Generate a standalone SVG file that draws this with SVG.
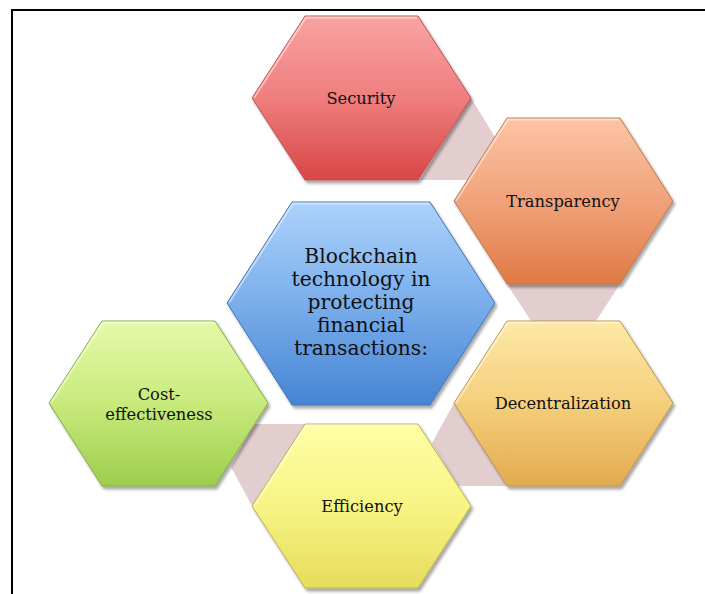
<svg xmlns="http://www.w3.org/2000/svg" width="705" height="594" viewBox="0 0 705 594">
  <style>
    .hex { stroke-width: 1; filter: url(#shadow); }
    .label { font-family: "DejaVu Serif", "Liberation Serif", serif; font-size: 16.3px; fill: #111111; text-anchor: middle; }
    .main { font-size: 20.3px; }
    .link { fill: #e2cdcf; }
    .frame { fill: none; stroke: #000; stroke-width: 2; }
    .bevel { fill: none; stroke: #ffffff; stroke-opacity: 0.45; stroke-width: 2; }
  </style>
  <defs>
    <filter id="shadow" x="-10%" y="-10%" width="125%" height="125%">
      <feGaussianBlur in="SourceAlpha" stdDeviation="1.6"/>
      <feOffset dx="1.5" dy="2.5" result="b"/>
      <feComponentTransfer><feFuncA type="linear" slope="0.35"/></feComponentTransfer>
      <feMerge><feMergeNode/><feMergeNode in="SourceGraphic"/></feMerge>
    </filter>
    <linearGradient id="gRed" x1="0" y1="0" x2="0" y2="1">
      <stop offset="0" stop-color="#f9a3a3"/>
      <stop offset="0.5" stop-color="#ef7e7e"/>
      <stop offset="1" stop-color="#d84646"/>
    </linearGradient>
    <linearGradient id="gOrange" x1="0" y1="0" x2="0" y2="1">
      <stop offset="0" stop-color="#fbc4a5"/>
      <stop offset="0.5" stop-color="#f1a27a"/>
      <stop offset="1" stop-color="#df7a45"/>
    </linearGradient>
    <linearGradient id="gGold" x1="0" y1="0" x2="0" y2="1">
      <stop offset="0" stop-color="#fde9a6"/>
      <stop offset="0.5" stop-color="#f5cf7c"/>
      <stop offset="1" stop-color="#e2ab50"/>
    </linearGradient>
    <linearGradient id="gYellow" x1="0" y1="0" x2="0" y2="1">
      <stop offset="0" stop-color="#fefea6"/>
      <stop offset="0.5" stop-color="#f8f484"/>
      <stop offset="1" stop-color="#e6dc5c"/>
    </linearGradient>
    <linearGradient id="gGreen" x1="0" y1="0" x2="0" y2="1">
      <stop offset="0" stop-color="#e6f9aa"/>
      <stop offset="0.5" stop-color="#c8ea7c"/>
      <stop offset="1" stop-color="#9ccd4c"/>
    </linearGradient>
    <linearGradient id="gBlue" x1="0" y1="0" x2="0" y2="1">
      <stop offset="0" stop-color="#acd2fb"/>
      <stop offset="0.5" stop-color="#79aeeb"/>
      <stop offset="1" stop-color="#4684d4"/>
    </linearGradient>
  </defs>

  <rect width="705" height="594" fill="#ffffff"/>

  <!-- page frame: top and left rules -->
  <path class="frame" d="M12 594 V10 H705"/>

  <!-- connecting bands between neighbouring hexagons -->
  <g id="connectors">
    <polygon class="link" points="471,98 495,137 467,180 420,180"/>
    <polygon class="link" points="507,284 620,284 596,321 531,321"/>
    <polygon class="link" points="454,403 432,443 458,486 507,486"/>
    <polygon class="link" points="254,424 307,424 252,506 231,467"/>
  </g>

  <g id="security">
    <polygon class="hex" fill="url(#gRed)" stroke="#c05050" points="252,98 305,16 418,16 471,98 418,180 305,180"/>
    <polyline class="bevel" points="254,98 306,17.5 417,17.5"/>
    <text class="label" x="361" y="104">Security</text>
  </g>

  <g id="transparency">
    <polygon class="hex" fill="url(#gOrange)" stroke="#c0764a" points="454,201 507,118 620,118 673,201 620,284 507,284"/>
    <polyline class="bevel" points="456,201 508,119.5 619,119.5"/>
    <text class="label" x="563" y="207">Transparency</text>
  </g>

  <g id="decentralization">
    <polygon class="hex" fill="url(#gGold)" stroke="#bf9450" points="454,403 507,321 620,321 673,403 620,486 507,486"/>
    <polyline class="bevel" points="456,403 508,322.5 619,322.5"/>
    <text class="label" x="563" y="409">Decentralization</text>
  </g>

  <g id="efficiency">
    <polygon class="hex" fill="url(#gYellow)" stroke="#b8b054" points="252,506 305,424 418,424 471,506 418,588 305,588"/>
    <polyline class="bevel" points="254,506 306,425.5 417,425.5"/>
    <text class="label" x="362" y="512">Efficiency</text>
  </g>

  <g id="cost-effectiveness">
    <polygon class="hex" fill="url(#gGreen)" stroke="#86ad48" points="49,403 102,321 215,321 268,403 215,486 102,486"/>
    <polyline class="bevel" points="51,403 103,322.5 214,322.5"/>
    <text class="label" x="159" y="400">Cost-</text>
    <text class="label" x="159" y="420">effectiveness</text>
  </g>

  <g id="blockchain">
    <polygon class="hex" fill="url(#gBlue)" stroke="#3f74b8" points="227,303 292,202 430,202 495,303 430,405 292,405"/>
    <polyline class="bevel" points="229,303 293,203.5 429,203.5"/>
    <text class="label main" x="361" y="263">Blockchain</text>
    <text class="label main" x="361" y="286">technology in</text>
    <text class="label main" x="361" y="309">protecting</text>
    <text class="label main" x="361" y="332">financial</text>
    <text class="label main" x="361" y="355">transactions:</text>
  </g>
</svg>
